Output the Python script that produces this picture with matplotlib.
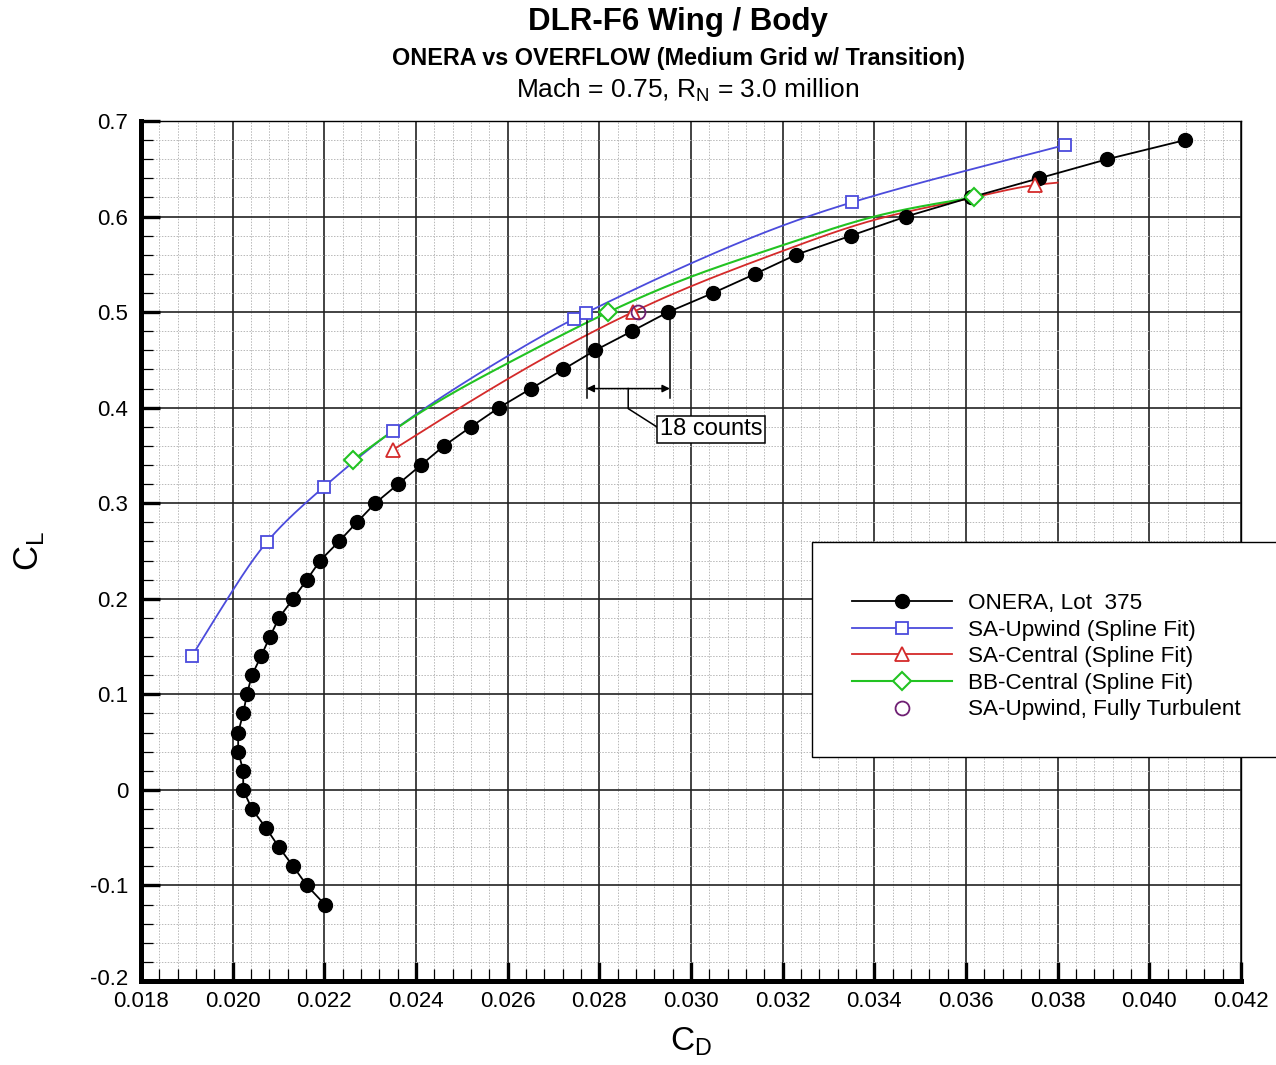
import numpy as np
import matplotlib
matplotlib.use("Agg")
import matplotlib.pyplot as plt
from matplotlib.ticker import MultipleLocator, FuncFormatter
from matplotlib.lines import Line2D
from matplotlib.patches import Rectangle
from matplotlib.transforms import ScaledTranslation

plt.rcParams['font.family'] = ['Liberation Sans', 'DejaVu Sans']
plt.rcParams['mathtext.fontset'] = 'custom'
plt.rcParams['mathtext.rm'] = 'Liberation Sans'

# ---------------- data ----------------
onera_cl = [0.68, 0.66, 0.64, 0.62, 0.60, 0.58, 0.56, 0.54, 0.52, 0.50, 0.48, 0.46,
            0.44, 0.42, 0.40, 0.38, 0.36, 0.34, 0.32, 0.30, 0.28, 0.26, 0.24, 0.22,
            0.20, 0.18, 0.16, 0.14, 0.12, 0.10, 0.08, 0.06, 0.04, 0.02, 0.00, -0.02,
            -0.04, -0.06, -0.08, -0.10, -0.12]
onera_cd = [0.04078, 0.03908, 0.03759, 0.03610, 0.03469, 0.03349, 0.03229, 0.03140,
            0.03048, 0.02950, 0.02871, 0.02791, 0.02721, 0.02651, 0.02581, 0.02520,
            0.02461, 0.02411, 0.02361, 0.02311, 0.02271, 0.02232, 0.02191, 0.02162,
            0.02132, 0.02101, 0.02081, 0.02062, 0.02042, 0.02031, 0.02023, 0.02012,
            0.02012, 0.02023, 0.02023, 0.02042, 0.02073, 0.02101, 0.02132, 0.02162,
            0.02201]

# SA-Upwind (spline fit): curve and marker points
sau_curve_cd = [0.01911, 0.02000, 0.02074, 0.02154, 0.02199, 0.02350, 0.02400, 0.02600,
                0.02745, 0.02770, 0.03000, 0.03255, 0.03352, 0.03600, 0.03817]
sau_curve_cl = [0.140, 0.2086, 0.259, 0.298, 0.317, 0.376, 0.393, 0.454,
                0.493, 0.499, 0.551, 0.600, 0.615, 0.648, 0.675]
sau_mark_cd = [0.01911, 0.02074, 0.02199, 0.02350, 0.02745, 0.02770, 0.03352, 0.03817]
sau_mark_cl = [0.140, 0.259, 0.317, 0.376, 0.493, 0.499, 0.615, 0.675]

# SA-Central (spline fit)
sac_curve_cd = [0.02350, 0.02600, 0.02873, 0.03000, 0.03200, 0.03400, 0.03617, 0.03751, 0.03800]
sac_curve_cl = [0.356, 0.430, 0.500, 0.527, 0.564, 0.5965, 0.620, 0.633, 0.6355]
sac_mark_cd = [0.02350, 0.02873, 0.03751]
sac_mark_cl = [0.356, 0.500, 0.633]

# BB-Central (spline fit)
bbc_curve_cd = [0.02262, 0.02400, 0.02600, 0.02820, 0.03000, 0.03200, 0.03400, 0.03617]
bbc_curve_cl = [0.345, 0.392, 0.4465, 0.500, 0.537, 0.570, 0.600, 0.620]
bbc_mark_cd = [0.02262, 0.02820, 0.03617]
bbc_mark_cl = [0.345, 0.500, 0.620]

# SA-Upwind, fully turbulent
saft_cd = [0.02885]
saft_cl = [0.500]

labels = ["ONERA, Lot  375", "SA-Upwind (Spline Fit)", "SA-Central (Spline Fit)",
          "BB-Central (Spline Fit)", "SA-Upwind, Fully Turbulent"]

# "18 counts" bracket
bracket_cd = [0.02772, 0.02954]
bracket_cl_top = 0.500
bracket_cl_bot = 0.410
bracket_arrow_cl = 0.420
note_text = "18 counts"

XLIM = (0.018, 0.042)
YLIM = (-0.2, 0.7)


def natural_spline_1d(t, v, ts):
    t = np.asarray(t, float); v = np.asarray(v, float)
    n = len(t)
    h = np.diff(t)
    A = np.zeros((n, n)); r = np.zeros(n)
    A[0, 0] = 1; A[-1, -1] = 1
    for i in range(1, n - 1):
        A[i, i - 1] = h[i - 1]
        A[i, i] = 2 * (h[i - 1] + h[i])
        A[i, i + 1] = h[i]
        r[i] = 3 * ((v[i + 1] - v[i]) / h[i] - (v[i] - v[i - 1]) / h[i - 1])
    c = np.linalg.solve(A, r)
    b = (v[1:] - v[:-1]) / h - h * (2 * c[:-1] + c[1:]) / 3
    d = (c[1:] - c[:-1]) / (3 * h)
    idx = np.clip(np.searchsorted(t, ts) - 1, 0, n - 2)
    dt = ts - t[idx]
    return v[idx] + b[idx] * dt + c[idx] * dt**2 + d[idx] * dt**3


def smooth(xc, yc):
    # parametric spline, chord length measured in (approximately) screen units
    xn = np.asarray(xc) / (XLIM[1] - XLIM[0]) * 1100
    yn = np.asarray(yc) / (YLIM[1] - YLIM[0]) * 860
    s = np.concatenate([[0], np.cumsum(np.hypot(np.diff(xn), np.diff(yn)))])
    ss = np.linspace(0, s[-1], 600)
    return natural_spline_1d(s, xc, ss), natural_spline_1d(s, yc, ss)


c_blue = '#4b4bdc'
c_red = '#d42a2a'
c_green = '#22c322'
c_purple = '#6f1f73'

fig = plt.figure(figsize=(12.76, 10.65), dpi=100)
ax = fig.add_axes([141 / 1276, 1 - 981 / 1065, 1100 / 1276, 860 / 1065])

ax.set_xlim(*XLIM)
ax.set_ylim(*YLIM)

# grid
ax.xaxis.set_major_locator(MultipleLocator(0.002))
ax.xaxis.set_minor_locator(MultipleLocator(0.0004))
ax.yaxis.set_major_locator(MultipleLocator(0.1))
ax.yaxis.set_minor_locator(MultipleLocator(0.02))
ax.grid(which='minor', color='#b8b8b8', lw=0.7, ls=(0, (1.5, 1.5)), zorder=0)
ax.grid(which='major', color='#222222', lw=1.2, zorder=0.5)
ax.set_axisbelow(True)

ax.xaxis.set_major_formatter(FuncFormatter(lambda v, p: f"{v:.3f}"))
ax.yaxis.set_major_formatter(FuncFormatter(lambda v, p: "0" if abs(v) < 1e-9 else f"{v:.1f}"))

for s in ['left', 'bottom']:
    ax.spines[s].set_linewidth(3.6)
for s in ['top', 'right']:
    ax.spines[s].set_linewidth(1.0)
ax.tick_params(which='major', direction='in', length=14, width=2.4, labelsize=16,
               top=False, right=False)
ax.tick_params(which='minor', direction='in', length=8.5, width=0.9,
               top=False, right=False)
ax.tick_params(axis='x', which='major', pad=7)
ax.tick_params(axis='y', which='major', pad=9)

# ONERA
ax.plot(onera_cd, onera_cl, '-', color='black', lw=1.3, marker='o',
        ms=10, mfc='black', mec='black', zorder=6)

# spline fits
xs, ys = smooth(sau_curve_cd, sau_curve_cl)
ax.plot(xs, ys, '-', color=c_blue, lw=1.3, zorder=4)
ax.plot(sau_mark_cd, sau_mark_cl, ls='none', marker='s', ms=9, mfc='white',
        mec=c_blue, mew=1.3, zorder=7)
xs, ys = smooth(sac_curve_cd, sac_curve_cl)
ax.plot(xs, ys, '-', color=c_red, lw=1.3, zorder=4)
ax.plot(sac_mark_cd, sac_mark_cl, ls='none', marker='^', ms=10, mfc='white',
        mec=c_red, mew=1.3, zorder=7)
xs, ys = smooth(bbc_curve_cd, bbc_curve_cl)
ax.plot(xs, ys, '-', color=c_green, lw=1.5, zorder=4)
ax.plot(bbc_mark_cd, bbc_mark_cl, ls='none', marker='D', ms=9, mfc='white',
        mec=c_green, mew=1.5, zorder=7)
ax.plot(saft_cd, saft_cl, ls='none', marker='o', ms=10, mfc='none',
        mec=c_purple, mew=1.3, zorder=8)

# legend (frame drawn separately so it can run off the right edge like the original)
fig.patches.append(Rectangle((812 / 1276, 1 - 757 / 1065), 500 / 1276, 215 / 1065,
                             transform=fig.transFigure, fc='white', ec='black',
                             lw=1.0, zorder=9))
handles = [
    Line2D([], [], color='black', lw=1.3, marker='o', ms=10, mfc='black'),
    Line2D([], [], color=c_blue, lw=1.3, marker='s', ms=9, mfc='white', mec=c_blue, mew=1.3),
    Line2D([], [], color=c_red, lw=1.3, marker='^', ms=10, mfc='white', mec=c_red, mew=1.3),
    Line2D([], [], color=c_green, lw=1.5, marker='D', ms=9, mfc='white', mec=c_green, mew=1.5),
    Line2D([], [], ls='none', marker='o', ms=10, mfc='none', mec=c_purple, mew=1.3),
]
leg = fig.legend(handles, labels, loc='upper left',
                 bbox_to_anchor=(852 / 1276, 1 - 593 / 1065),
                 fontsize=16.2, frameon=False, borderpad=0, handlelength=4.45,
                 handletextpad=0.72, labelspacing=0.25, borderaxespad=0)
leg.set_zorder(10)

# 18 counts bracket
for xv in bracket_cd:
    ax.plot([xv, xv], [bracket_cl_top, bracket_cl_bot], color='black', lw=1.1, zorder=5)
ax.annotate('', xy=(bracket_cd[0], bracket_arrow_cl), xytext=(bracket_cd[1], bracket_arrow_cl),
            arrowprops=dict(arrowstyle='<|-|>', color='black', lw=1.1,
                            mutation_scale=11, shrinkA=0, shrinkB=0), zorder=5)
mid = 0.5 * (bracket_cd[0] + bracket_cd[1])
ax.plot([mid, mid, 0.02930], [bracket_arrow_cl, 0.399, 0.3785], color='black', lw=1.1, zorder=5)
ax.text(0.02932, 0.3775, note_text, ha='left', va='center', fontsize=17, zorder=9,
        bbox=dict(boxstyle='square,pad=0.1', fc='white', ec='black', lw=1.1))

# labels
ax.set_xlabel(r"C$_\mathregular{D}$", fontsize=24)
ax.xaxis.set_label_coords(0.5, -0.052)
ax.set_ylabel(r"C$_\mathregular{L}$", fontsize=25)
ax.yaxis.set_label_coords(-0.086, 0.5)

# titles
fig.text(678 / 1276, 1 - 22 / 1065, "DLR-F6 Wing / Body", ha='center', va='center',
         fontsize=22.5, fontweight='bold')
fig.text(679 / 1276, 1 - 58 / 1065, "ONERA vs OVERFLOW (Medium Grid w/ Transition)",
         ha='center', va='center', fontsize=16.8, fontweight='bold')
fig.text(688 / 1276, 1 - 90 / 1065, r"Mach = 0.75, R$_\mathregular{N}$ = 3.0 million",
         ha='center', va='center', fontsize=19)

# nudge the lowest y label up a little so it clears the first x label
fig.canvas.draw()
for lab in ax.get_yticklabels():
    if lab.get_text() == '-0.2':
        lab.set_transform(lab.get_transform() + ScaledTranslation(0, 4 / 100, fig.dpi_scale_trans))

fig.savefig('out.png', dpi=100)
